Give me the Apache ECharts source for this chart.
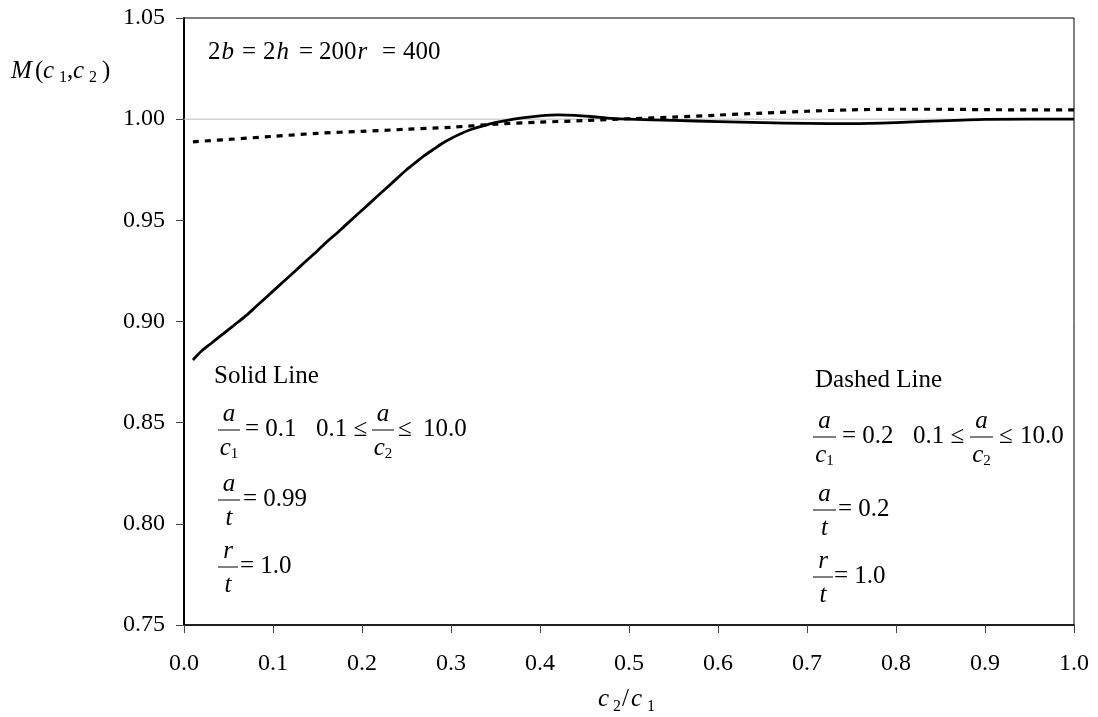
<!DOCTYPE html>
<html>
<head>
<meta charset="utf-8">
<script src="https://cdn.jsdelivr.net/npm/echarts@6/dist/echarts.min.js"></script>
<style>
  html, body { margin: 0; padding: 0; background: #fff; }
  #chart { width: 1098px; height: 717px; }
</style>
</head>
<body>
<div id="chart"></div>
<script>
// c2/c1 ratios and M(c1,c2) for the solid curve (a/c1 = 0.1, a/t = 0.99)
const solidRatio = [0.01, 0.02, 0.03, 0.04, 0.05, 0.06, 0.07, 0.08, 0.09, 0.10,
  0.11, 0.12, 0.13, 0.14, 0.15, 0.16, 0.17, 0.18, 0.19, 0.20,
  0.21, 0.22, 0.23, 0.24, 0.25, 0.26, 0.27, 0.28, 0.29, 0.30,
  0.32, 0.34, 0.36, 0.38, 0.40, 0.42, 0.44, 0.46, 0.48, 0.50,
  0.55, 0.60, 0.65, 0.70, 0.75, 0.80, 0.85, 0.90, 0.95, 1.00];
const solidM = [0.881, 0.8855, 0.889, 0.8925, 0.896, 0.8995, 0.903, 0.907, 0.911, 0.915,
  0.919, 0.923, 0.927, 0.931, 0.935, 0.9392, 0.943, 0.947, 0.951, 0.955,
  0.959, 0.963, 0.967, 0.971, 0.975, 0.9785, 0.982, 0.985, 0.988, 0.9905,
  0.9945, 0.9972, 0.9991, 1.0006, 1.0016, 1.0021, 1.0019, 1.0012, 1.0004, 1.000,
  0.9994, 0.9988, 0.9983, 0.9979, 0.9978, 0.9983, 0.9992, 0.9999, 1.000, 1.000];

// c2/c1 ratios and M(c1,c2) for the dashed curve (a/c1 = 0.2, a/t = 0.2)
const dashedRatio = [0.01, 0.05, 0.10, 0.15, 0.20, 0.25, 0.30, 0.35, 0.40, 0.45,
  0.50, 0.55, 0.60, 0.65, 0.70, 0.75, 0.80, 0.85, 0.90, 0.95, 1.00];
const dashedM = [0.9888, 0.990, 0.9915, 0.993, 0.994, 0.995, 0.996, 0.9975, 0.9985, 0.9993,
  1.0002, 1.001, 1.002, 1.003, 1.0039, 1.0046, 1.0049, 1.0049, 1.0047, 1.0046, 1.0046];

// reference level M = 1
const unityLevel = 1.0;

const FONT = '"Liberation Serif", "Times New Roman", serif';
const TICK = 24;
const MAIN = 25;

const measureCtx = document.createElement('canvas').getContext('2d');
function textWidth(t, size, italic) {
  measureCtx.font = (italic ? 'italic ' : '') + size + 'px ' + FONT;
  return measureCtx.measureText(t).width;
}

// lays out a run of text pieces (roman / italic / subscript) left to right
function run(x, y, pieces, out) {
  let cx = x;
  for (const p of pieces) {
    const size = p.size || (p.sub ? 15 : MAIN);
    if (p.x !== undefined) cx = p.x;
    cx += p.dx || 0;
    out.push({
      type: 'text', silent: true,
      x: cx, y: y + (p.sub ? (p.dy !== undefined ? p.dy : 6) : 0),
      style: {
        text: p.t, fontFamily: FONT, fontSize: size,
        fontStyle: p.it ? 'italic' : 'normal',
        fill: '#000', align: 'left', verticalAlign: 'middle'
      }
    });
    cx += textWidth(p.t, size, p.it);
  }
  return cx;
}
function runWidth(pieces) {
  let w = 0;
  for (const p of pieces) w += (p.dx || 0) + textWidth(p.t, p.size || (p.sub ? 15 : MAIN), p.it);
  return w;
}
// stacked fraction with a bar
function frac(x, yBar, w, num, den, out) {
  out.push({ type: 'line', silent: true,
    shape: { x1: x, y1: yBar, x2: x + w, y2: yBar },
    style: { stroke: '#000', lineWidth: 1 } });
  run(x + (w - runWidth(num)) / 2, yBar - 16, num, out);
  run(x + (w - runWidth(den)) / 2, yBar + 18, den, out);
}

const A = [{ t: 'a', it: true }];
const R = [{ t: 'r', it: true }];
const T = [{ t: 't', it: true }];
const C1 = [{ t: 'c', it: true }, { t: '1', sub: true }];
const C2 = [{ t: 'c', it: true }, { t: '2', sub: true }];

const notes = [];
// geometry of the section
run(0, 52, [
  { t: '2', x: 208 }, { t: 'b', it: true, dx: 1 },
  { t: '=', x: 242 }, { t: '2', x: 263 }, { t: 'h', it: true, dx: 1 },
  { t: '=', x: 299 }, { t: '200', x: 319 }, { t: 'r', it: true, dx: 1 },
  { t: '=', x: 382 }, { t: '400', x: 403 }
], notes);

// y axis name M(c1,c2)
run(0, 71, [
  { t: 'M', it: true, x: 11 }, { t: '(', x: 35 }, { t: 'c', it: true, x: 43 },
  { t: '1', sub: true, size: 16, x: 59, dy: 7 }, { t: ',', x: 67 },
  { t: 'c', it: true, x: 73 }, { t: '2', sub: true, size: 16, x: 89, dy: 7 },
  { t: ')', x: 102 }
], notes);

// x axis name c2/c1
run(0, 699, [
  { t: 'c', it: true, x: 598 }, { t: '2', sub: true, size: 16, x: 613, dy: 8 },
  { t: '/', x: 622 }, { t: 'c', it: true, x: 631 },
  { t: '1', sub: true, size: 16, x: 647, dy: 8 }
], notes);

// solid-line parameters
run(214, 376, [{ t: 'Solid Line' }], notes);
frac(218, 430, 22, A, C1, notes);
run(245, 429, [{ t: '= 0.1' }], notes);
run(316, 429, [{ t: '0.1 ≤' }], notes);
frac(372, 430, 22, A, C2, notes);
run(398, 429, [{ t: '≤' }, { t: '10.0', x: 423 }], notes);
frac(218, 500, 22, A, T, notes);
run(243, 499, [{ t: '= 0.99' }], notes);
frac(218, 567, 20, R, T, notes);
run(240, 566, [{ t: '= 1.0' }], notes);

// dashed-line parameters
run(815, 380, [{ t: 'Dashed Line' }], notes);
frac(813, 437, 23, A, C1, notes);
run(842, 436, [{ t: '= 0.2' }], notes);
run(913, 436, [{ t: '0.1 ≤' }], notes);
frac(970, 437, 23, A, C2, notes);
run(999, 436, [{ t: '≤' }, { t: '10.0', x: 1020 }], notes);
frac(813, 510, 23, A, T, notes);
run(838, 509, [{ t: '= 0.2' }], notes);
frac(813, 577, 20, R, T, notes);
run(834, 576, [{ t: '= 1.0' }], notes);

const chart = echarts.init(document.getElementById('chart'), null, { renderer: 'canvas' });
chart.setOption({
  animation: false,
  backgroundColor: '#fff',
  grid: {
    left: 184, right: 24, top: 18, bottom: 92,
    show: true, borderColor: '#000', borderWidth: 1, backgroundColor: 'transparent'
  },
  xAxis: {
    type: 'value', min: 0, max: 1, interval: 0.1,
    axisLine: { show: true, onZero: false, lineStyle: { color: '#000', width: 1.5 } },
    axisTick: { show: true, inside: false, length: 8, lineStyle: { color: '#444', width: 1 } },
    axisLabel: {
      margin: 27, color: '#000', fontFamily: FONT, fontSize: TICK,
      formatter: v => v.toFixed(1)
    },
    splitLine: { show: false }
  },
  yAxis: {
    type: 'value', min: 0.75, max: 1.05, interval: 0.05,
    axisLine: { show: true, onZero: false, lineStyle: { color: '#000', width: 2 } },
    axisTick: { show: true, inside: false, length: 8, lineStyle: { color: '#444', width: 1 } },
    axisLabel: {
      margin: 19, color: '#000', fontFamily: FONT, fontSize: TICK,
      formatter: v => v.toFixed(2)
    },
    splitLine: { show: false }
  },
  series: [
    {
      name: 'unity', type: 'line', silent: true, z: 1,
      data: [[0, unityLevel], [1, unityLevel]],
      showSymbol: false,
      lineStyle: { color: '#bdbdbd', width: 1 }
    },
    {
      name: 'Solid Line', type: 'line', z: 3,
      data: solidRatio.map((x, i) => [x, solidM[i]]),
      showSymbol: false, smooth: 0.25,
      lineStyle: { color: '#000', width: 2.8, join: 'round' }
    },
    {
      name: 'Dashed Line', type: 'line', z: 4,
      data: dashedRatio.map((x, i) => [x, dashedM[i]]),
      showSymbol: false, smooth: 0.3,
      lineStyle: { color: '#000', width: 3.2, type: [6, 6], cap: 'butt' }
    }
  ],
  graphic: { elements: notes }
});
</script>
</body>
</html>
